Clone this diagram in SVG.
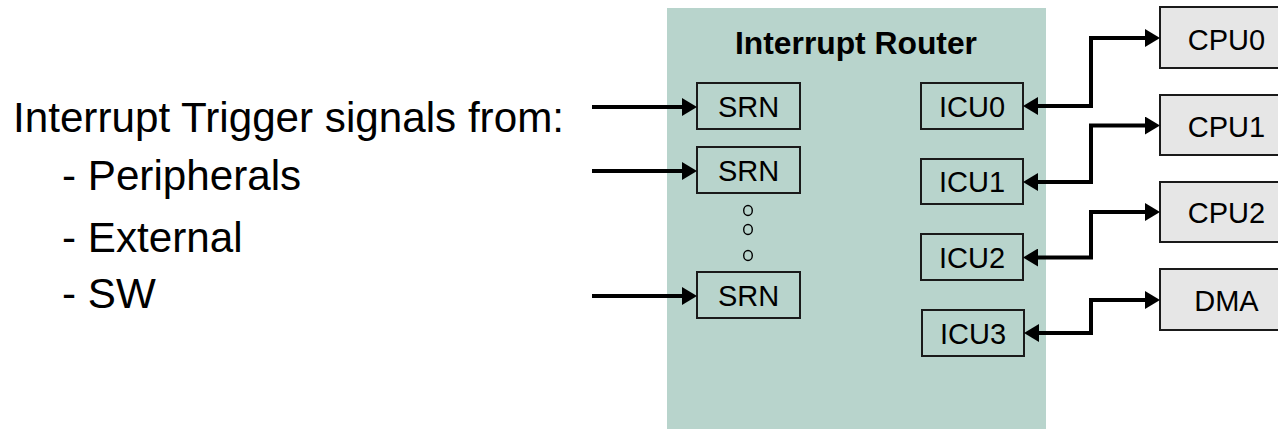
<svg xmlns="http://www.w3.org/2000/svg" width="1278" height="429" viewBox="0 0 1278 429">
  <style>
    .txt { font-family: "Liberation Sans", Arial, sans-serif; fill: #000; }
    .big { font-size: 42.2px; }
    .lbl { font-size: 29px; text-anchor: middle; }
    .title { font-size: 31.8px; font-weight: bold; text-anchor: middle; }
    .box { fill: none; stroke: #1a1a1a; stroke-width: 2; }
    .cpu { fill: #e6e6e6; stroke: #1a1a1a; stroke-width: 2; }
    .wire { fill: none; stroke: #000; stroke-width: 4; }
    .dot { fill: none; stroke: #000; stroke-width: 1.4; }
  </style>
  <defs>
    <marker id="ah" viewBox="0 0 15 18" markerWidth="15" markerHeight="18" markerUnits="userSpaceOnUse" refX="2" refY="9" orient="auto-start-reverse">
      <path d="M0,0 L15,9 L0,18 z" fill="#000"/>
    </marker>
  </defs>

  <rect width="1278" height="429" fill="#ffffff"/>

  <g id="source-text">
    <text class="txt big" x="13" y="131.5">Interrupt Trigger signals from:</text>
    <text class="txt big" x="62" y="190">- Peripherals</text>
    <text class="txt big" x="62" y="251.5">- External</text>
    <text class="txt big" x="62" y="308">- SW</text>
  </g>

  <g id="router">
    <rect x="667" y="8" width="379" height="421" fill="#b8d4cc"/>
    <text class="txt title" x="856" y="54">Interrupt Router</text>
  </g>

  <g id="srn0">
    <rect class="box" x="697" y="83" width="103" height="46"/>
    <text class="txt lbl" x="748.5" y="116.5">SRN</text>
  </g>
  <g id="srn1">
    <rect class="box" x="697" y="147" width="103" height="46"/>
    <text class="txt lbl" x="748.5" y="180.5">SRN</text>
  </g>
  <g id="srn-ellipsis">
    <ellipse class="dot" cx="748" cy="210.5" rx="4.3" ry="5"/>
    <ellipse class="dot" cx="748" cy="229.5" rx="4.3" ry="5"/>
    <ellipse class="dot" cx="748" cy="255.5" rx="4.3" ry="5"/>
  </g>
  <g id="srn2">
    <rect class="box" x="697" y="272" width="103" height="46"/>
    <text class="txt lbl" x="748.5" y="305.5">SRN</text>
  </g>

  <g id="icu0">
    <rect class="box" x="921" y="83" width="102" height="46"/>
    <text class="txt lbl" x="972" y="116.5">ICU0</text>
  </g>
  <g id="icu1">
    <rect class="box" x="921" y="159" width="102" height="45"/>
    <text class="txt lbl" x="972" y="192">ICU1</text>
  </g>
  <g id="icu2">
    <rect class="box" x="921" y="234" width="102" height="46"/>
    <text class="txt lbl" x="972" y="267.5">ICU2</text>
  </g>
  <g id="icu3">
    <rect class="box" x="922" y="310" width="102" height="46"/>
    <text class="txt lbl" x="973" y="343.5">ICU3</text>
  </g>

  <g id="cpu0">
    <rect class="cpu" x="1160" y="7" width="134" height="61"/>
    <text class="txt lbl" x="1226.5" y="49.5">CPU0</text>
  </g>
  <g id="cpu1">
    <rect class="cpu" x="1160" y="95" width="134" height="60"/>
    <text class="txt lbl" x="1226.5" y="136.5">CPU1</text>
  </g>
  <g id="cpu2">
    <rect class="cpu" x="1160" y="182" width="134" height="60"/>
    <text class="txt lbl" x="1226.5" y="223">CPU2</text>
  </g>
  <g id="dma">
    <rect class="cpu" x="1160" y="269" width="134" height="61"/>
    <text class="txt lbl" x="1226.5" y="310.5">DMA</text>
  </g>

  <g id="connectors">
    <line class="wire" x1="592" y1="107" x2="684" y2="107" marker-end="url(#ah)"/>
    <line class="wire" x1="592" y1="171" x2="684" y2="171" marker-end="url(#ah)"/>
    <line class="wire" x1="592" y1="296" x2="684" y2="296" marker-end="url(#ah)"/>
    <path class="wire" d="M1036,106 H1091 V38 H1147" marker-start="url(#ah)" marker-end="url(#ah)"/>
    <path class="wire" d="M1036,182 H1091 V125.5 H1147" marker-start="url(#ah)" marker-end="url(#ah)"/>
    <path class="wire" d="M1036,257.5 H1091 V212 H1147" marker-start="url(#ah)" marker-end="url(#ah)"/>
    <path class="wire" d="M1037,333 H1091 V300 H1147" marker-start="url(#ah)" marker-end="url(#ah)"/>
  </g>
</svg>
